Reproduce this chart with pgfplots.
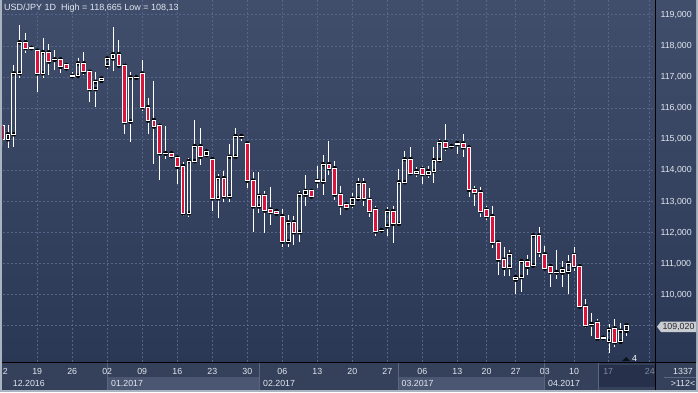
\documentclass[border=0pt]{standalone}
\usepackage{pgfplots}
\pgfplotsset{compat=1.18}
\usepackage{pgfplotstable}
\usepackage{fontspec}
\setmainfont{Liberation Sans}
\definecolor{bgtop}{HTML}{404E6C}
\definecolor{bgbot}{HTML}{2B3855}
\definecolor{gridc}{HTML}{56668A}
\definecolor{candred}{HTML}{DC143C}
\definecolor{framec}{HTML}{AAB3C0}
\definecolor{strip}{HTML}{35415B}
\definecolor{cellhi}{HTML}{4B5772}
\definecolor{future}{HTML}{26304A}
\definecolor{sepc}{HTML}{5A6781}
\definecolor{labc}{HTML}{E2E8F0}
\definecolor{dimlab}{HTML}{7F8AA0}
\definecolor{tagc}{HTML}{C9CDD3}

\pgfplotstableread{
i o h l c
0 115.43 115.50 114.80 115.00
1 115.00 115.46 114.73 115.16
2 115.16 117.39 114.74 117.12
3 117.12 118.67 116.96 118.12
4 118.12 118.41 117.77 117.93
5 117.94 117.98 117.89 117.93
6 117.85 117.87 116.53 117.12
7 117.12 118.25 116.98 117.80
8 117.80 118.06 117.07 117.50
9 117.57 117.87 117.23 117.55
10 117.57 117.62 117.12 117.33
11 117.39 117.40 117.23 117.28
12 117.04 117.15 116.98 117.03
13 117.04 117.62 117.02 117.44
14 117.44 117.80 117.07 117.17
15 117.17 117.23 116.21 116.61
16 116.61 117.17 116.03 116.85
17 116.88 117.04 116.82 116.96
18 117.37 117.65 117.27 117.60
19 117.60 118.62 117.21 117.74
20 117.74 118.19 117.35 117.37
21 117.37 117.44 115.17 115.55
22 115.57 117.17 114.90 116.99
23 116.99 117.04 116.94 116.98
24 117.12 117.55 115.92 116.03
25 116.03 116.32 115.17 115.60
26 115.62 116.87 114.20 115.41
27 115.43 115.49 113.69 114.55
28 114.55 115.43 114.36 114.54
29 114.55 114.58 114.44 114.46
30 114.41 114.43 113.56 114.11
31 114.14 114.28 112.53 112.62
32 112.62 114.40 112.51 114.30
33 114.30 115.62 114.28 114.78
34 114.78 115.35 114.17 114.44
35 114.49 114.62 114.48 114.61
36 114.36 114.38 112.71 113.10
37 113.10 113.88 112.48 113.75
38 113.75 113.98 112.99 113.16
39 113.16 114.84 112.99 114.44
40 114.44 115.35 114.36 115.10
41 115.10 115.17 114.96 115.09
42 114.87 114.95 113.44 113.67
43 113.67 113.96 112.03 112.84
44 112.84 113.96 112.62 113.18
45 113.18 113.35 112.00 112.71
46 112.74 113.46 112.25 112.66
47 112.69 112.74 112.55 112.61
48 112.53 112.76 111.55 111.71
49 111.71 112.57 111.55 112.33
50 112.33 112.53 111.60 112.01
51 112.01 113.35 111.71 113.22
52 113.22 113.85 112.84 113.34
53 113.34 113.36 113.10 113.16
54 113.66 114.14 113.44 113.65
55 113.64 114.49 113.22 114.20
56 114.20 114.95 113.86 114.07
57 114.07 114.30 113.04 113.22
58 113.21 113.50 112.57 112.88
59 112.90 112.92 112.78 112.80
60 112.90 113.26 112.78 113.09
61 113.09 113.76 113.07 113.59
62 113.59 113.76 112.87 113.09
63 113.05 113.44 112.51 112.69
64 112.74 112.85 111.90 112.04
65 112.08 112.12 112.06 112.07
66 112.20 112.83 111.89 112.69
67 112.69 112.85 111.67 112.28
68 112.28 114.04 112.26 113.62
69 113.62 114.61 113.60 114.36
70 114.36 114.76 113.85 113.91
71 113.91 114.11 113.78 113.98
72 114.05 114.14 113.56 113.88
73 113.88 114.14 113.75 113.98
74 113.98 114.76 113.59 114.33
75 114.33 115.00 114.26 114.90
76 114.90 115.49 114.63 114.74
77 114.78 114.84 114.72 114.77
78 114.84 114.90 114.52 114.88
79 114.87 115.17 114.44 114.74
80 114.74 114.76 113.13 113.37
81 113.37 113.50 112.87 113.30
82 113.30 113.46 112.51 112.69
83 112.74 112.87 112.39 112.53
84 112.53 112.87 111.49 111.68
85 111.68 111.74 110.65 111.13
86 111.13 111.54 110.60 110.87
87 110.89 111.45 110.60 111.29
88 110.49 110.65 110.03 110.57
89 110.57 111.13 110.09 111.08
90 111.08 111.27 110.65 110.90
91 110.94 111.93 110.92 111.91
92 111.91 112.19 111.22 111.37
93 111.30 111.57 110.82 110.85
94 110.92 110.94 110.26 110.73
95 110.73 111.45 110.50 110.72
96 110.71 111.08 110.26 110.82
97 110.74 111.29 110.03 111.01
98 111.28 111.54 110.76 110.92
99 110.92 110.93 109.60 109.62
100 109.62 109.85 108.94 109.02
101 109.05 109.40 108.67 109.06
102 109.10 109.21 108.51 108.59
103 108.62 108.63 108.61 108.61
104 108.51 109.05 108.13 108.88
105 108.92 109.21 108.32 108.47
106 108.49 109.10 108.49 108.84
107 108.84 109.08 108.67 109.02
}\candles

\begin{document}
\begin{tikzpicture}[x=1pt,y=1pt]
\useasboundingbox (0,0) rectangle (698,392);
\fill[framec] (0,0) rectangle (698,392);
\fill[strip] (2,2) rectangle (696,29.5);
\shade[top color=bgtop, bottom color=bgbot] (2,29.5) rectangle (696,392);
% month cells
\fill[cellhi] (107,2.5) rectangle (259,15);
\fill[cellhi] (398,2.5) rectangle (544,15);
\fill[future] (598,5) rectangle (655,27);
\foreach \xx in {107,259,398,544,598}{\draw[sepc, line width=0.8pt] (\xx,2) -- (\xx,29);}

\begin{axis}[
  at={(3pt,30pt)}, anchor=south west, scale only axis,
  width=652pt, height=362pt,
  xmin=0.137, xmax=111.877, ymin=107.839, ymax=119.479,
  axis line style={draw=none},
  major tick length=0pt,
  tick style={draw=none},
  ytick={109,110,111,112,113,114,115,116,117,118,119},
  yticklabels={{},{110,000},{111,000},{112,000},{113,000},{114,000},{115,000},{116,000},{117,000},{118,000},{119,000}},
  yticklabel pos=right,
  yticklabel style={font=\fontsize{8.8}{10}\selectfont, color=labc, anchor=west, xshift=2pt},
  xtick={6,12,18,24,30,36,42,48,54,60,66,72,78,83,88,93,98,103.85,111.0},
  xticklabels={19,26,02,09,16,23,30,06,13,20,27,06,13,20,27,03,10,\textcolor{dimlab}{17},\textcolor{dimlab}{24}},
  xticklabel style={font=\fontsize{8.8}{10}\selectfont, color=labc, anchor=center, yshift=-9.7pt},
  extra x ticks={0.53},
  extra x tick labels={2},
  extra x tick style={grid=none},
  grid=major,
  major grid style={gridc, dash pattern=on 2pt off 2pt, line width=0.8pt},
]
\addplot[only marks, mark=none, error bars/.cd, y dir=plus, y explicit, error mark=none,
  error bar style={draw=white, solid, line width=1pt}]
  table[x=i, y expr={max(\thisrow{o},\thisrow{c})}, y error plus expr={\thisrow{h}-max(\thisrow{o},\thisrow{c})}] {\candles};
\addplot[only marks, mark=none, error bars/.cd, y dir=minus, y explicit, error mark=none,
  error bar style={draw=white, solid, line width=1pt}]
  table[x=i, y expr={min(\thisrow{o},\thisrow{c})}, y error minus expr={min(\thisrow{o},\thisrow{c})-\thisrow{l}}] {\candles};
\end{axis}

\begin{axis}[
  at={(3pt,30pt)}, anchor=south west, scale only axis,
  width=652pt, height=362pt,
  xmin=0.137, xmax=111.877, ymin=107.839, ymax=119.479,
  hide axis, ybar stacked, bar width=3.8pt,
]
\addplot[draw=none, fill=none] table[x=i, y expr={min(\thisrow{o},\thisrow{c})}] {\candles};
\addplot[fill=candred, draw=white, line width=1pt] table[x=i, y expr={max(\thisrow{o}-\thisrow{c},0)}] {\candles};
\addplot[fill=none, draw=white, line width=1pt] table[x=i, y expr={max(\thisrow{c}-\thisrow{o},0)}] {\candles};
\end{axis}

% frame lines
\draw[black, line width=1pt] (2,29.5) -- (696,29.5);
\draw[black, line width=1pt] (655.5,2) -- (655.5,392);
% title
\node[anchor=base west, inner sep=0, text=labc, font=\fontsize{9}{10}\selectfont] at (4,381.5) {USD/JPY 1D\ \ High = 118,665 Low = 108,13};
% month labels
\begin{scope}[every node/.style={anchor=west, inner sep=0, text=labc, font=\fontsize{8.8}{10}\selectfont}]
\node at (12.7,9) {12.2016};
\node at (111,9) {01.2017};
\node at (263,9) {02.2017};
\node at (401.5,9) {03.2017};
\node at (548,9) {04.2017};
\end{scope}
% bottom right box
\node[inner sep=0, text=labc, font=\fontsize{8.8}{10}\selectfont] at (683,20.5) {1337};
\draw[sepc, line width=0.7pt] (664,14.5) -- (696,14.5);
\node[inner sep=0, text=labc, font=\fontsize{8.8}{10}\selectfont] at (683,8.5) {>112<};
% last price tag
\fill[tagc] (657,65.3) -- (661,70.5) -- (696,70.5) -- (696,60) -- (661,60) -- cycle;
\node[inner sep=0, text=black!85, font=\fontsize{8.8}{10}\selectfont] at (678.5,65.3) {109,020};
% marker
\fill[black!70!bgbot] (622,31) -- (630,31) -- (626,35) -- cycle;
\node[inner sep=0, text=white, font=\fontsize{8.8}{10}\selectfont] at (634.5,34) {4};
\end{tikzpicture}
\end{document}
